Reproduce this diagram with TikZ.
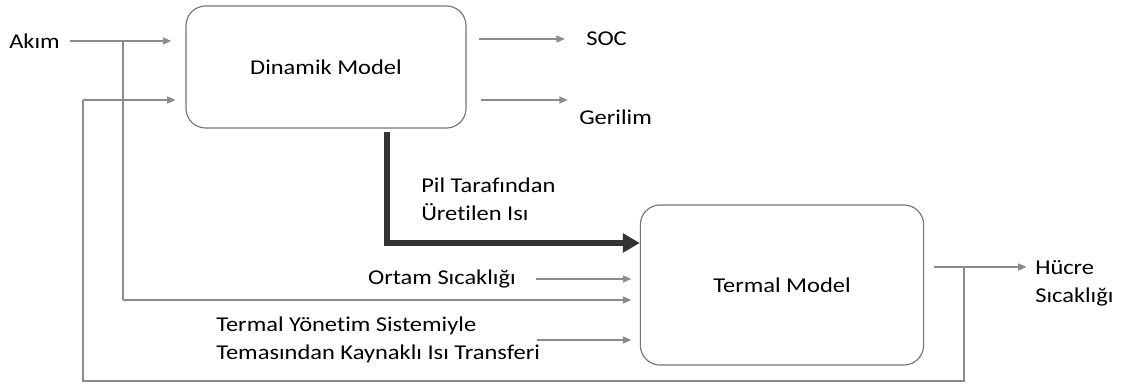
\documentclass[tikz,border=0pt]{standalone}
\usepackage{fontspec}
\setmainfont{Carlito}[FakeStretch=1.16, Ligatures=NoCommon]
\usetikzlibrary{positioning,arrows.meta}

\begin{document}
\begin{tikzpicture}[x=0.025cm, y=-0.025cm,
      model/.style={rectangle, draw=black!55, line width=0.8pt, rounded corners=14pt,
                    align=center, font=\fontsize{15}{18}\selectfont},
      lbl/.style={inner sep=0pt, align=left, font=\fontsize{15}{20}\selectfont},
      flow/.style={draw=black!45, line width=1.1pt,
                   -{Triangle[length=6pt,width=5pt]}},
      wire/.style={draw=black!45, line width=1.1pt},
      heat/.style={draw=black!80, line width=4pt,
                   -{Triangle[length=12pt,width=13pt]}}]
    \useasboundingbox (0,0) rectangle (1123,387);
    % blocks
    \node[model, minimum width=7cm, minimum height=3.05cm] (dinamik) at (326,67) {Dinamik Model};
    \node[model, minimum width=7.08cm, minimum height=4cm] (termal) at (782,285) {Termal Model};
    % labels
    \node[lbl, anchor=west] (akim) at (9,41) {Akım};
    \node[lbl, anchor=west] (soc) at (586,39) {SOC};
    \node[lbl, anchor=west] (gerilim) at (579,117) {Gerilim};
    \node[lbl, anchor=west] (isi) at (421,199) {Pil Tarafından\\Üretilen Isı};
    \node[lbl, anchor=east] (ortam) at (516,279) {Ortam Sıcaklığı};
    \node[lbl, anchor=west] (tys) at (216,340) {Termal Yönetim Sistemiyle\\Temasından Kaynaklı Isı Transferi};
    \node[lbl, anchor=west] (hucre) at (1035,283) {Hücre\\Sıcaklığı};
    % junctions
    \coordinate (j1) at (123,41);
    \coordinate (j2) at (964,267);
    \coordinate (fb) at (83,100);
    \coordinate (cur) at (123,300);
    \coordinate (tin) at (537,340);
    % Dinamik Model
    \draw[flow, shorten <=7pt, shorten >=10pt] (akim.east) -- (akim.east -| dinamik.west);
    \draw[flow, shorten >=7pt] (fb) -- (fb -| dinamik.west);
    \draw[flow, shorten <=9pt, shorten >=15pt] (dinamik.east |- soc) -- (soc.west);
    \draw[flow, shorten <=10pt, shorten >=8pt] (dinamik.east |- 0,100) -- (gerilim.west |- 0,100);
    % heat from the cell
    \draw[heat] (dinamik.south -| 387,0) ++(0,3) |- (termal.west |- 0,243);
    % Termal Model
    \draw[flow, shorten <=14pt, shorten >=6pt] (ortam.east) -- (ortam.east -| termal.west);
    \draw[wire] (j1) -- (cur);
    \draw[flow, shorten >=6pt] (cur) -- (cur -| termal.west);
    \draw[flow, shorten >=6pt] (tin) -- (tin -| termal.west);
    \draw[flow, shorten <=7pt, shorten >=6pt] (termal.east |- j2) -- (hucre.west |- j2);
    % feedback of cell temperature
    \draw[wire] (j2) -- (964,381) -| (fb);
  \end{tikzpicture}
\end{document}
